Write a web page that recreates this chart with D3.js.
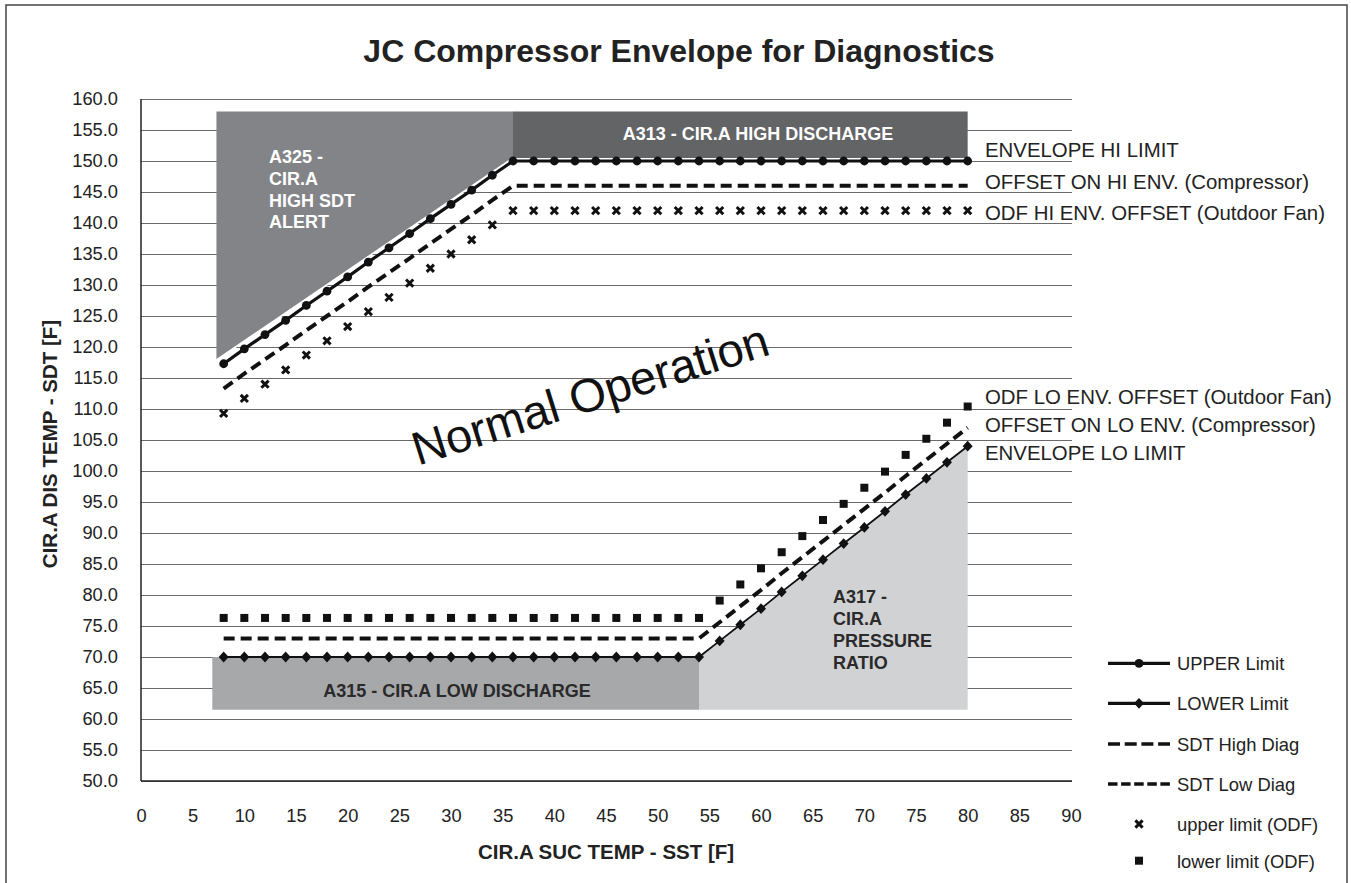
<!DOCTYPE html>
<html><head><meta charset="utf-8">
<script src="https://cdn.jsdelivr.net/npm/d3@7"></script>
<style>
body{margin:0;background:#fff;}
svg{display:block;}
text{font-family:"Liberation Sans",Arial,Helvetica,sans-serif;}
</style>
</head><body>
<svg id="chart" width="1351" height="883"></svg>
<script>
// ---------------- DATA ----------------
const sst = [8,10,12,14,16,18,20,22,24,26,28,30,32,34,36,38,40,42,44,46,48,50,52,54,56,58,60,62,64,66,68,70,72,74,76,78,80];

const upperLimit = [117.3,119.7,122.0,124.3,126.7,129.0,131.3,133.7,136.0,138.3,140.7,143.0,145.3,147.7,150.0,
  150.0,150.0,150.0,150.0,150.0,150.0,150.0,150.0,150.0,150.0,150.0,150.0,150.0,150.0,150.0,150.0,150.0,150.0,150.0,150.0,150.0,150.0];
const sdtHighDiag = [113.3,115.7,118.0,120.3,122.7,125.0,127.3,129.7,132.0,134.3,136.7,139.0,141.3,143.7,146.0,
  146.0,146.0,146.0,146.0,146.0,146.0,146.0,146.0,146.0,146.0,146.0,146.0,146.0,146.0,146.0,146.0,146.0,146.0,146.0,146.0,146.0,146.0];
const upperODF = [109.3,111.7,114.0,116.3,118.7,121.0,123.3,125.7,128.0,130.3,132.7,135.0,137.3,139.7,142.0,
  142.0,142.0,142.0,142.0,142.0,142.0,142.0,142.0,142.0,142.0,142.0,142.0,142.0,142.0,142.0,142.0,142.0,142.0,142.0,142.0,142.0,142.0];
const lowerLimit = [70.0,70.0,70.0,70.0,70.0,70.0,70.0,70.0,70.0,70.0,70.0,70.0,70.0,70.0,70.0,70.0,70.0,70.0,70.0,70.0,70.0,70.0,70.0,70.0,
  72.6,75.2,77.8,80.5,83.1,85.7,88.3,90.9,93.5,96.2,98.8,101.4,104.0];
const sdtLowDiag = [73.0,73.0,73.0,73.0,73.0,73.0,73.0,73.0,73.0,73.0,73.0,73.0,73.0,73.0,73.0,73.0,73.0,73.0,73.0,73.0,73.0,73.0,73.0,73.0,
  75.6,78.2,80.8,83.5,86.1,88.7,91.3,93.9,96.5,99.2,101.8,104.4,107.0];
const lowerODF = [76.3,76.3,76.3,76.3,76.3,76.3,76.3,76.3,76.3,76.3,76.3,76.3,76.3,76.3,76.3,76.3,76.3,76.3,76.3,76.3,76.3,76.3,76.3,76.3,
  79.1,81.7,84.3,86.9,89.5,92.1,94.7,97.3,99.9,102.6,105.2,107.8,110.4];

const xTicks = [0,5,10,15,20,25,30,35,40,45,50,55,60,65,70,75,80,85,90];
const yTicks = [50,55,60,65,70,75,80,85,90,95,100,105,110,115,120,125,130,135,140,145,150,155,160];

// shaded alarm regions [SST, SDT]
const regionA325 = [[7.3,158],[36,158],[36,150.5],[7.3,117.9]];
const regionA313 = [[36,158],[80,158],[80,150.5],[36,150.5]];
const regionA315 = [[6.9,70],[54,70],[54,61.5],[6.9,61.5]];
const regionA317 = [[54,70],[80,104],[80,61.5],[54,61.5]];

const rightLabelsHi = ["ENVELOPE HI LIMIT","OFFSET ON HI ENV. (Compressor)","ODF HI ENV. OFFSET (Outdoor Fan)"];
const rightLabelsLo = ["ODF LO ENV. OFFSET (Outdoor Fan)","OFFSET ON LO ENV. (Compressor)","ENVELOPE LO LIMIT"];
const legendNames = ["UPPER Limit","LOWER Limit","SDT High Diag","SDT Low Diag","upper limit (ODF)","lower limit (ODF)"];

// ---------------- CHART ----------------
const svg = d3.select("#chart");
const L = 141, R = 1071, T = 99, B = 781;
const x = d3.scaleLinear().domain([0,90]).range([L,R]);
const y = d3.scaleLinear().domain([50,160]).range([B,T]);

// outer frame
svg.append("rect").attr("x",6).attr("y",5).attr("width",1341).attr("height",900)
  .attr("fill","none").attr("stroke","#444").attr("stroke-width",1.5);

// title
svg.append("text").attr("x",679).attr("y",62).attr("text-anchor","middle")
  .attr("font-size",32).attr("font-weight","bold").attr("fill","#222")
  .text("JC Compressor Envelope for Diagnostics");

// y axis with grid
const yAxis = d3.axisLeft(y).tickValues(yTicks).tickFormat(d3.format(".1f"))
  .tickSizeInner(-(R - L + 1)).tickSizeOuter(0).tickPadding(23);
const gy = svg.append("g").attr("transform",`translate(${L},0)`).call(yAxis);
gy.select(".domain").remove();
gy.selectAll(".tick line").attr("stroke","#6a6a6a").attr("stroke-width",1.2);
gy.selectAll(".tick text").attr("font-size",18.3).attr("fill","#222")
  .attr("font-family","'Liberation Sans',Arial,sans-serif");

// x axis labels
const xAxis = d3.axisBottom(x).tickValues(xTicks).tickSize(0).tickPadding(28);
const gx = svg.append("g").attr("transform",`translate(0,${B})`).call(xAxis);
gx.select(".domain").remove();
gx.selectAll(".tick text").attr("font-size",18.3).attr("fill","#222")
  .attr("font-family","'Liberation Sans',Arial,sans-serif");

// shaded regions
const poly = d3.line().x(d=>x(d[0])).y(d=>y(d[1]));
const regions = svg.append("g");
regions.append("path").attr("d",poly(regionA325)+"Z").attr("fill","#838488");
regions.append("path").attr("d",poly([regionA325[2],regionA325[3]])).attr("stroke","#fff").attr("stroke-width",1.6).attr("fill","none");
regions.append("path").attr("d",poly(regionA313)+"Z").attr("fill","#636466");
regions.append("path").attr("d",poly(regionA315)+"Z").attr("fill","#a7a8aa");
regions.append("path").attr("d",poly(regionA317)+"Z").attr("fill","#d1d2d4");

// axis frame lines
svg.append("line").attr("x1",L).attr("x2",L).attr("y1",T).attr("y2",B).attr("stroke","#222").attr("stroke-width",1.5);
svg.append("line").attr("x1",L).attr("x2",R+1).attr("y1",B).attr("y2",B).attr("stroke","#222").attr("stroke-width",1.5);

// region labels
function multiLine(lines, xx, y0, dy, anchor, fill){
  const t = svg.append("text").attr("font-size",18).attr("font-weight","bold").attr("fill",fill).attr("text-anchor",anchor);
  lines.forEach((s,i)=>t.append("tspan").attr("x",xx).attr("y",y0+i*dy).text(s));
}
multiLine(["A325 -","CIR.A","HIGH SDT","ALERT"], 269, 163, 21.8, "start", "#ffffff");
multiLine(["A313 - CIR.A HIGH DISCHARGE"], 758, 140, 0, "middle", "#ffffff");
multiLine(["A315 - CIR.A LOW DISCHARGE"], 457, 697, 0, "middle", "#2a2a2a");
multiLine(["A317 -","CIR.A","PRESSURE","RATIO"], 833, 603, 22, "start", "#2a2a2a");

// series lines
const pts = vals => sst.map((s,i)=>[s, vals[i]]);
const line = d3.line().x(d=>x(d[0])).y(d=>y(d[1]));
svg.append("path").attr("d",line(pts(upperLimit))).attr("fill","none").attr("stroke","#111").attr("stroke-width",3.2);
svg.append("path").attr("d",line(pts(lowerLimit))).attr("fill","none").attr("stroke","#111").attr("stroke-width",1.8);
svg.append("path").attr("d",line(pts(sdtHighDiag))).attr("fill","none").attr("stroke","#111").attr("stroke-width",4).attr("stroke-dasharray","11,6");
svg.append("path").attr("d",line(pts(sdtLowDiag))).attr("fill","none").attr("stroke","#111").attr("stroke-width",4).attr("stroke-dasharray","11,6");

// markers
const diamond = "M0,-5.4L5,0L0,5.4L-5,0Z";
const cross = "M-3.6,-3.6L3.6,3.6M-3.6,3.6L3.6,-3.6";
svg.append("g").selectAll("circle").data(pts(upperLimit)).join("circle")
  .attr("cx",d=>x(d[0])).attr("cy",d=>y(d[1])).attr("r",4.4).attr("fill","#111");
svg.append("g").selectAll("path").data(pts(lowerLimit)).join("path")
  .attr("transform",d=>`translate(${x(d[0])},${y(d[1])})`).attr("d",diamond).attr("fill","#111");
svg.append("g").selectAll("path").data(pts(upperODF)).join("path")
  .attr("transform",d=>`translate(${x(d[0])},${y(d[1])})`).attr("d",cross).attr("stroke","#111").attr("stroke-width",3).attr("fill","none");
svg.append("g").selectAll("rect").data(pts(lowerODF)).join("rect")
  .attr("x",d=>x(d[0])-4).attr("y",d=>y(d[1])-4).attr("width",8).attr("height",8).attr("fill","#111");

// Normal Operation
svg.append("text").attr("transform","translate(595,410) rotate(-17.5)")
  .attr("text-anchor","middle").attr("font-size",47).attr("fill","#111").text("Normal Operation");

// right-side labels
const hiBase = [157,188.5,219.5];
const loBase = [403.5,431.5,460];
rightLabelsHi.forEach((s,i)=>svg.append("text").attr("x",985).attr("y",hiBase[i]).attr("font-size",20.4).attr("fill","#222").text(s));
rightLabelsLo.forEach((s,i)=>svg.append("text").attr("x",985).attr("y",loBase[i]).attr("font-size",20.4).attr("fill","#222").text(s));

// axis titles
svg.append("text").attr("transform","translate(56.5,444) rotate(-90)").attr("text-anchor","middle")
  .attr("font-size",20.5).attr("font-weight","bold").attr("fill","#222").text("CIR.A DIS TEMP - SDT [F]");
svg.append("text").attr("x",606).attr("y",859).attr("text-anchor","middle")
  .attr("font-size",20.5).attr("font-weight","bold").attr("fill","#222").text("CIR.A SUC TEMP - SST [F]");

// legend
const lg = svg.append("g");
const legY = [663.3,703.3,744,784,824,860.7];
const lx1 = 1108, lx2 = 1170, lxm = 1139;
lg.append("line").attr("x1",lx1).attr("x2",lx2).attr("y1",legY[0]).attr("y2",legY[0]).attr("stroke","#111").attr("stroke-width",3.3);
lg.append("circle").attr("cx",lxm).attr("cy",legY[0]).attr("r",4.4).attr("fill","#111");
lg.append("line").attr("x1",lx1).attr("x2",lx2).attr("y1",legY[1]).attr("y2",legY[1]).attr("stroke","#111").attr("stroke-width",3.3);
lg.append("path").attr("transform",`translate(${lxm},${legY[1]})`).attr("d",diamond).attr("fill","#111");
lg.append("line").attr("x1",lx1).attr("x2",lx2).attr("y1",legY[2]).attr("y2",legY[2]).attr("stroke","#111").attr("stroke-width",3.6).attr("stroke-dasharray","12,4.7");
lg.append("line").attr("x1",lx1).attr("x2",lx2).attr("y1",legY[3]).attr("y2",legY[3]).attr("stroke","#111").attr("stroke-width",3.6).attr("stroke-dasharray","9.5,3.6");
lg.append("path").attr("transform",`translate(${lxm},${legY[4]})`).attr("d",cross).attr("stroke","#111").attr("stroke-width",3);
lg.append("rect").attr("x",lxm-4).attr("y",legY[5]-4).attr("width",8).attr("height",8).attr("fill","#111");
legendNames.forEach((s,i)=>lg.append("text").attr("x",1177).attr("y",legY[i]+6.8).attr("font-size",18.4).attr("fill","#222").text(s));
</script>
</body></html>
